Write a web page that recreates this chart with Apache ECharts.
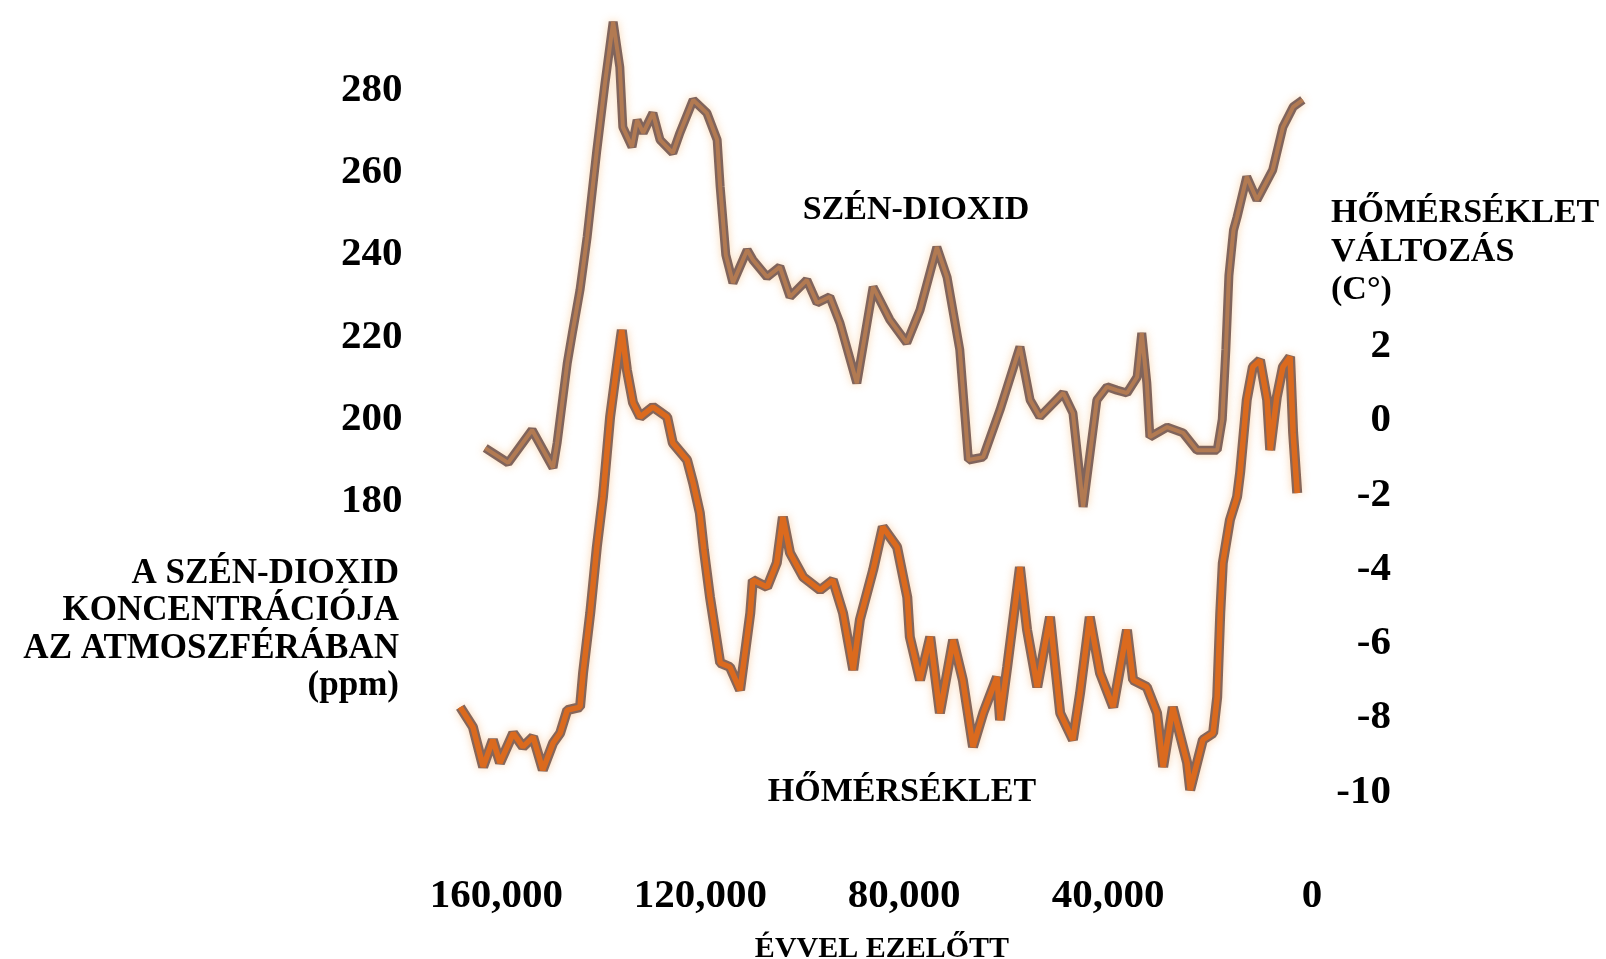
<!DOCTYPE html>
<html>
<head>
<meta charset="utf-8">
<title>Szén-dioxid és hőmérséklet</title>
<script src="https://cdn.jsdelivr.net/npm/echarts@6/dist/echarts.min.js"></script>
<style>
  html, body { margin: 0; padding: 0; background: #fff; }
  #chart { width: 1606px; height: 959px; }
</style>
</head>
<body>
<div id="chart"></div>
<script>
// évvel ezelőtt (év) és szén-dioxid (ppm)
var co2Years = [162200, 157700, 153000, 148900, 148100, 146100, 145000, 143600, 142200, 140300,
  138700, 137100, 135800, 135200, 133400, 132400, 131200, 129300, 127900, 125400,
  124000, 121400, 118700, 116700, 116100, 115000, 113600, 110800, 109700, 106900,
  104400, 102400, 99100, 97100, 94600, 92600, 89300, 86100, 82800, 79500,
  76900, 73600, 71600, 69100, 67400, 64500, 61200, 57300, 55300, 53400,
  48800, 46900, 44900, 42200, 40200, 38300, 36300, 34300, 33400, 32400,
  31800, 28400, 25300, 22600, 18600, 17600, 16900, 16300, 15400, 14700,
  12800, 10800, 7700, 5700, 3700, 1800];
var co2Ppm = [193.0, 189.4, 197.4, 188.2, 194.2, 213.7, 221.7, 231.5, 244.4, 265.5,
  281.8, 296.7, 285.7, 271.1, 266.3, 272.8, 269.7, 274.5, 268.0, 264.8,
  269.7, 277.7, 274.5, 268.0, 256.5, 240.0, 233.2, 241.2, 238.8, 234.6,
  237.1, 229.8, 233.9, 228.3, 229.8, 223.4, 208.8, 232.2, 224.2, 218.6,
  226.6, 241.9, 234.6, 216.9, 190.1, 190.8, 202.3, 217.6, 204.7, 200.6,
  206.4, 201.5, 178.7, 204.7, 207.9, 207.1, 206.4, 210.3, 221.0, 208.8,
  195.7, 198.1, 196.7, 192.5, 192.5, 200.0, 217.0, 235.0, 246.0, 249.2,
  259.0, 253.4, 260.7, 271.1, 276.0, 277.7];

// évvel ezelőtt (év) és hőmérséklet-változás (°C)
var tempYears = [167100, 164600, 162600, 160700, 159300, 156700, 154800, 152800, 150900, 148900,
  147500, 146100, 143600, 143000, 141600, 140300, 139100, 137700, 136300, 135400,
  134400, 133200, 131800, 129300, 126500, 125400, 122600, 121400, 120100, 119300,
  118100, 116100, 114200, 112200, 110200, 109700, 106900, 105000, 103800, 102400,
  99800, 96500, 94000, 92000, 90000, 88700, 86100, 84200, 81400, 79400,
  78900, 76900, 74900, 73000, 70400, 68500, 66500, 64500, 61800, 61200,
  59800, 57300, 55900, 53900, 51400, 49400, 46900, 45500, 43600, 41600,
  39000, 36300, 35100, 32400, 30400, 29200, 27300, 24500, 23900, 21400,
  19400, 18600, 18000, 17500, 16100, 14700, 14100, 12800, 11600, 10200,
  8800, 8200, 6900, 5700, 4300, 3700, 2900];
var tempChange = [-7.71, -8.25, -9.32, -8.59, -9.21, -8.41, -8.78, -8.51, -9.40, -8.68,
  -8.41, -7.79, -7.71, -6.79, -5.18, -3.40, -2.05, 0.10, 1.55, 2.44,
  1.36, 0.48, 0.10, 0.37, 0.10, -0.60, -1.06, -1.68, -2.48, -3.48,
  -4.75, -6.52, -6.63, -7.25, -5.18, -4.29, -4.48, -3.83, -2.59, -3.56,
  -4.21, -4.56, -4.29, -5.18, -6.71, -5.36, -4.02, -2.86, -3.40, -4.75,
  -5.82, -6.98, -5.82, -7.87, -5.90, -6.98, -8.78, -7.87, -6.90, -8.06,
  -6.63, -3.94, -5.63, -7.17, -5.28, -7.87, -8.59, -7.33, -5.28, -6.79,
  -7.71, -5.63, -6.98, -7.17, -7.87, -9.32, -7.71, -9.21, -9.94, -8.59,
  -8.41, -7.44, -5.18, -3.83, -2.67, -2.05, -1.40, 0.56, 1.45, 1.63,
  0.56, -0.79, 0.64, 1.45, 1.72, -0.33, -1.95];

var yearTicks = [160000, 120000, 80000, 40000, 0];
var co2Ticks = [280, 260, 240, 220, 200, 180];
var tempTicks = [2, 0, -2, -4, -6, -8, -10];

function zip(a, b) {
  var out = [];
  for (var i = 0; i < a.length; i++) out.push([a[i], b[i]]);
  return out;
}

var serif = '"Liberation Serif", "Times New Roman", serif';
var labelStyle = { fontFamily: serif, fontWeight: 'bold', fontSize: 41, color: '#000' };

var chart = echarts.init(document.getElementById('chart'));
var co2Data = zip(co2Years, co2Ppm);
var tempData = zip(tempYears, tempChange);

var option = {
  backgroundColor: '#ffffff',
  animation: false,
  grid: [
    { left: 440, top: 8.3, width: 872, height: 822 },
    { left: 440, top: 272.1, width: 872, height: 594.4 }
  ],
  xAxis: [
    {
      gridIndex: 0, type: 'value', min: 0, max: 171070, interval: 40000, inverse: true,
      axisLine: { show: false }, axisTick: { show: false }, splitLine: { show: false },
      axisLabel: Object.assign({}, labelStyle, {
        margin: 46,
        formatter: function (v) { return yearTicks.indexOf(v) >= 0 ? echarts.format.addCommas(v) : ''; }
      })
    },
    { gridIndex: 1, type: 'value', min: 0, max: 171070, inverse: true, show: false }
  ],
  yAxis: [
    {
      gridIndex: 0, type: 'value', min: 100, max: 300, interval: 20, position: 'left',
      axisLine: { show: false }, axisTick: { show: false }, splitLine: { show: false },
      axisLabel: Object.assign({}, labelStyle, {
        margin: 37.5,
        formatter: function (v) { return co2Ticks.indexOf(v) >= 0 ? String(v) : ''; }
      })
    },
    {
      gridIndex: 1, type: 'value', min: -12, max: 4, interval: 2, position: 'right',
      axisLine: { show: false }, axisTick: { show: false }, splitLine: { show: false },
      axisLabel: Object.assign({}, labelStyle, {
        margin: 79, align: 'right',
        formatter: function (v) { return tempTicks.indexOf(v) >= 0 ? String(v) : ''; }
      })
    }
  ],
  series: [
    {
      name: 'Hőmérséklet (alap)', type: 'line', xAxisIndex: 1, yAxisIndex: 1,
      data: tempData, showSymbol: false, symbol: 'none',
      lineStyle: { color: '#86665a', width: 10, shadowColor: 'rgba(245,160,80,0.45)', shadowBlur: 8 }
    },
    {
      name: 'Hőmérséklet', type: 'line', xAxisIndex: 1, yAxisIndex: 1,
      data: tempData, showSymbol: false, symbol: 'none',
      lineStyle: { color: '#db6a1e', width: 5.5 }
    },
    {
      name: 'Szén-dioxid (alap)', type: 'line', xAxisIndex: 0, yAxisIndex: 0,
      data: co2Data, showSymbol: false, symbol: 'none',
      lineStyle: { color: '#80645c', width: 9, shadowColor: 'rgba(245,170,90,0.45)', shadowBlur: 8 }
    },
    {
      name: 'Szén-dioxid', type: 'line', xAxisIndex: 0, yAxisIndex: 0,
      data: co2Data, showSymbol: false, symbol: 'none',
      lineStyle: { color: '#b27a52', width: 4 }
    }
  ],
  graphic: [
    {
      type: 'text', x: 399, y: 555,
      style: {
        text: 'A SZÉN-DIOXID\nKONCENTRÁCIÓJA\nAZ ATMOSZFÉRÁBAN\n(ppm)',
        fontFamily: serif, fontWeight: 'bold', fontSize: 35, lineHeight: 37.5,
        align: 'right', verticalAlign: 'top', fill: '#000'
      }
    },
    {
      type: 'text', x: 1331, y: 194,
      style: {
        text: 'HŐMÉRSÉKLET\nVÁLTOZÁS\n(C°)',
        fontFamily: serif, fontWeight: 'bold', fontSize: 34, lineHeight: 38.5,
        align: 'left', verticalAlign: 'top', fill: '#000'
      }
    },
    {
      type: 'text', x: 916, y: 210,
      style: {
        text: 'SZÉN-DIOXID', fontFamily: serif, fontWeight: 'bold', fontSize: 34,
        align: 'center', verticalAlign: 'middle', fill: '#000'
      }
    },
    {
      type: 'text', x: 902, y: 792,
      style: {
        text: 'HŐMÉRSÉKLET', fontFamily: serif, fontWeight: 'bold', fontSize: 34,
        align: 'center', verticalAlign: 'middle', fill: '#000'
      }
    },
    {
      type: 'text', x: 882, y: 934,
      style: {
        text: 'ÉVVEL EZELŐTT', fontFamily: serif, fontWeight: 'bold', fontSize: 30,
        align: 'center', verticalAlign: 'top', fill: '#000'
      }
    }
  ]
};

chart.setOption(option);
</script>
</body>
</html>
